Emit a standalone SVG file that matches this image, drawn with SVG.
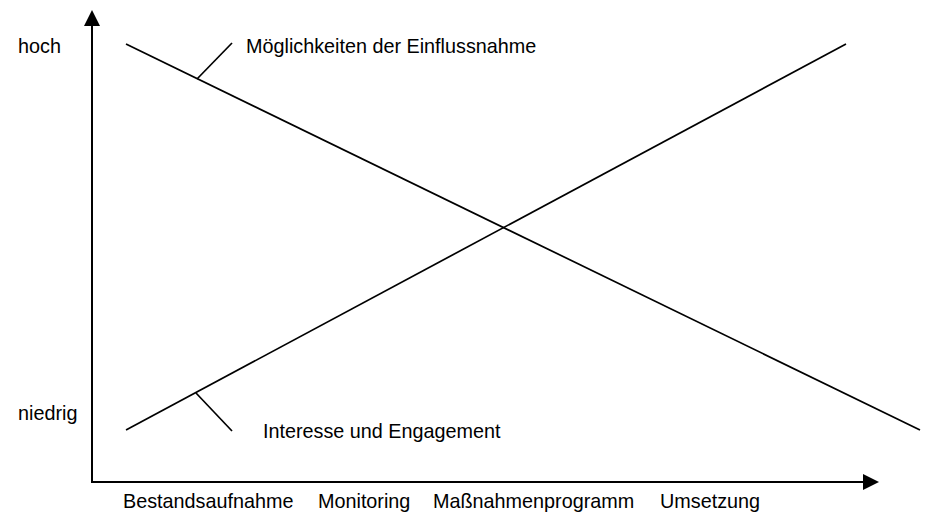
<svg xmlns="http://www.w3.org/2000/svg" width="931" height="513" viewBox="0 0 931 513">
<style>
text{font-family:"Liberation Sans",Arial,sans-serif;font-size:19.8px;fill:#000}
.ax{stroke:#000;stroke-width:2;fill:none}
.ln{stroke:#000;stroke-width:1.7;fill:none}
</style>
<defs>
<marker id="ah" viewBox="0 0 16 16" refX="0" refY="8" markerWidth="16" markerHeight="16" markerUnits="userSpaceOnUse" orient="auto">
<path d="M0,0 L16,8 L0,16 Z" fill="#000"/>
</marker>
</defs>
<rect width="931" height="513" fill="#fff"/>
<g id="connectors">
<line class="ax" x1="92" y1="483" x2="92" y2="26" marker-end="url(#ah)"/>
<line class="ax" x1="91" y1="482" x2="863" y2="482" marker-end="url(#ah)"/>
<line id="einfluss" class="ln" x1="126" y1="44" x2="920" y2="430"/>
<line id="interesse" class="ln" x1="126" y1="430" x2="846" y2="44"/>
<line class="ln" x1="197" y1="79" x2="232" y2="43"/>
<line class="ln" x1="196" y1="393" x2="232" y2="431"/>
</g>
<g id="ylabels">
<text x="18" y="53">hoch</text>
<text x="18" y="420">niedrig</text>
</g>
<g id="linelabels">
<text x="246" y="53">Möglichkeiten der Einflussnahme</text>
<text x="263" y="438">Interesse und Engagement</text>
</g>
<g id="xlabels">
<text x="123" y="508">Bestandsaufnahme</text>
<text x="318" y="508">Monitoring</text>
<text x="433" y="508">Maßnahmenprogramm</text>
<text x="660" y="508">Umsetzung</text>
</g>
</svg>
